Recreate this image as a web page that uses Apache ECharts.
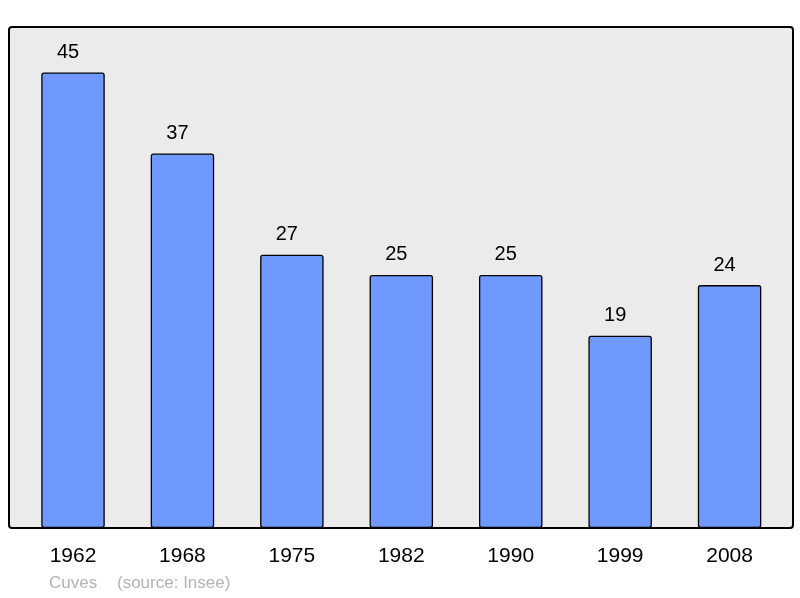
<!DOCTYPE html>
<html><head><meta charset="utf-8">
<script src="https://cdn.jsdelivr.net/npm/echarts@6/dist/echarts.min.js"></script>
<style>html,body{margin:0;padding:0;background:#fff}#c{width:800px;height:598px}</style>
</head><body><div id="c"></div>
<script>
const years = ['1962','1968','1975','1982','1990','1999','2008'];
const population = [45,37,27,25,25,19,24];
const placeName = 'Cuves';
const sourceText = '(source: Insee)';

const FONT = '"Liberation Sans", Arial, sans-serif';
const chart = echarts.init(document.getElementById('c'), null, {renderer:'canvas'});
chart.setOption({
  animation:false,
  backgroundColor:'#ffffff',
  graphic:[
    {type:'rect', z:-10, shape:{x:9,y:27,width:784,height:501,r:3}, style:{fill:'#ebebeb', stroke:'none'}},
    {type:'rect', z:100, shape:{x:9,y:27,width:784,height:501,r:3}, style:{fill:'none', stroke:'#000', lineWidth:2}},
    {type:'text', left:49, top:575, style:{text:placeName, fill:'#b3b3b3', font:'17px ' + FONT}},
    {type:'text', left:117, top:575, style:{text:sourceText, fill:'#b3b3b3', font:'17px ' + FONT}}
  ],
  grid:{left:18.3, width:766, top:27, bottom:70, containLabel:false},
  xAxis:{type:'category', data:years, boundaryGap:true,
    axisLine:{show:false}, axisTick:{show:false},
    axisLabel:{margin:18, color:'#000', fontSize:21, fontFamily:FONT}},
  yAxis:{type:'value', min:0, max:49.5, show:false, splitLine:{show:false}},
  series:[{type:'bar', data:population, barWidth:'58%',
    itemStyle:{color:'#7099ff', borderColor:'#000', borderWidth:1.3, borderRadius:2},
    label:{show:true, position:'top', distance:10, offset:[-5,0], color:'#000', fontSize:20, fontFamily:FONT}}]
});
</script></body></html>
